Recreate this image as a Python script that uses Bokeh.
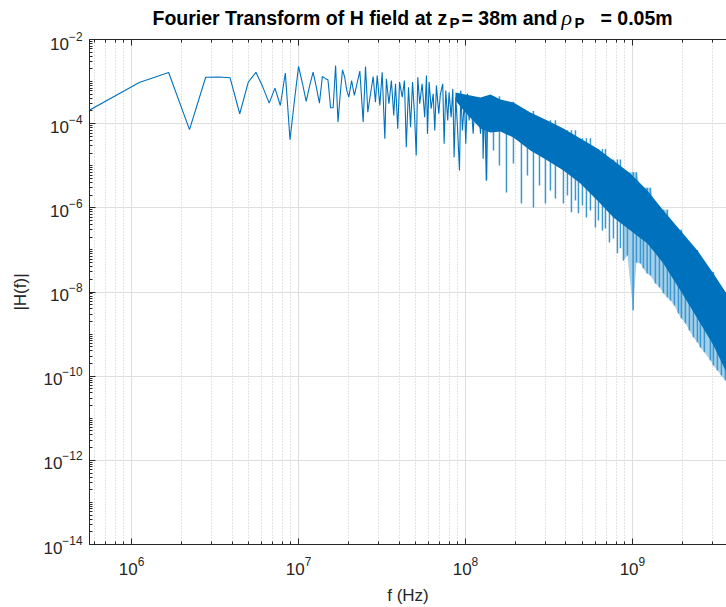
import numpy as np
from bokeh.plotting import figure
from bokeh.layouts import column
from bokeh.models import FixedTicker, LogAxis, Range1d, CustomJSTickFormatter
from bokeh.core.properties import value
from bokeh.embed import file_html
from bokeh.resources import INLINE

# ---------------- data ----------------
# individually visible FFT samples (frequency in MHz, |H(f)|)
f_line_mhz = [0.556, 1.112, 1.668, 2.224, 2.78, 3.336, 3.892, 4.448, 5.004, 5.56,
              6.116, 6.672, 7.228, 7.784, 8.34, 8.896, 9.452, 10.008, 10.564, 11.12,
              11.676, 12.232, 12.788, 13.344, 13.9, 14.456, 15.012, 15.568, 16.124, 16.68,
              17.236, 17.792, 18.348, 18.904, 19.46, 20.016,
              20.8, 21.6, 23.3, 24.4, 25.2, 26.0, 27.0, 28.0, 28.9, 29.6,
              30.7, 31.7, 32.9, 33.6, 34.8, 36.0, 37.2, 38.1, 39.3, 40.3,
              41.8, 43.1, 44.2, 45.6, 46.9, 48.2, 49.5, 50.7, 51.8, 53.2,
              55.0, 57.0, 58.4, 59.2, 60.6, 62.3, 64.1, 65.5, 67.0, 69.2,
              70.8, 73.1, 74.5, 76.2, 78.3, 79.8, 82.1, 84.0, 85.5, 87.5,
              89.6, 92.1, 93.7, 95.9, 98.6, 100.4, 102.8, 105.2, 107.6, 111.2,
              113.7, 116.4, 119.6, 123.0, 126.4, 127.6, 130.0, 133.6, 136.1]
h_line = [2.06e-4, 9.5e-4, 1.64e-3, 7.2e-5, 1.27e-3, 1.28e-3, 1.23e-3, 1.72e-4, 9.7e-4, 1.67e-3,
          7.4e-4, 3.07e-4, 7.0e-4, 2.7e-4, 1.6e-3, 4.15e-5, 3.5e-4, 2.29e-3, 9.0e-4, 3.4e-4,
          8.1e-4, 1.67e-3, 7.4e-4, 3.07e-4, 1.32e-3, 1.19e-3, 1.10e-3, 2.39e-4, 2.39e-4, 2.41e-3,
          1.09e-4, 5.2e-4, 1.9e-3, 1.27e-3, 6.2e-4, 4.27e-4,
          1.06e-3, 4.68e-4, 1.77e-3, 1.09e-4, 2.29e-3, 1.88e-4, 5.13e-4, 1.32e-3, 3.24e-4, 1.40e-3,
          2.7e-4, 1.67e-3, 4.37e-5, 1.16e-3, 2.97e-4, 1.06e-3, 1.57e-4, 8.87e-4, 7.57e-5, 9.7e-4,
          4.27e-4, 1.06e-3, 2.77e-5, 7.36e-4, 8.26e-5, 9.7e-4, 1.72e-4, 1.76e-5, 1.27e-3, 2.97e-4,
          8.87e-4, 1.43e-4, 1.40e-3, 5.75e-5, 9.7e-4, 2.26e-4, 5.13e-4, 6.9e-5, 8.07e-4, 1.72e-4,
          5.13e-4, 8.87e-4, 3.33e-5, 6.15e-4, 1.19e-4, 5.6e-4, 1.43e-4, 6.75e-4, 1.6e-5, 4.27e-4,
          8.26e-5, 7.7e-6, 6.15e-4, 6.9e-5, 3.56e-4, 3.33e-5, 5.13e-4, 1.19e-4, 4.27e-4, 5.75e-5,
          2.97e-4, 1.19e-4, 3.89e-4, 5.75e-5, 2.47e-4, 1.47e-5, 2.97e-4, 4.48e-6, 2.47e-4]

# dense part, where the samples merge into a solid band (MHz, upper / lower edge)
f_band_mhz = [87.1, 100.0, 123.0, 141.1, 162.0, 193.8, 245.0, 309.7, 386.2, 488.2,
              617.2, 769.5, 972.7, 1229.5, 1533.0, 1938.0, 2450.0, 3055.0, 3655.0, 3800.0]
h_band_upper = [5.5e-4, 4.94e-4, 4.19e-4, 4.94e-4, 3.76e-4, 3.19e-4, 1.85e-4, 1.19e-4, 7.7e-5, 4.45e-5,
                2.57e-5, 1.34e-5, 6.56e-6, 2.59e-6, 8.67e-7, 2.9e-7, 9.7e-8, 2.77e-8, 9.3e-9, 7.9e-9]
h_band_lower = [3.56e-4, 1.85e-4, 7.7e-5, 6.18e-5, 6.53e-5, 4.7e-5, 2.31e-5, 1.34e-5, 7.73e-6, 3.8e-6,
                1.5e-6, 5.9e-7, 2.9e-7, 1.43e-7, 4.78e-8, 1.09e-8, 2.36e-9, 5.4e-10, 1.23e-10, 1.0e-10]

# deep notches hanging below the band (MHz, band top, notch tip)
f_dip_mhz = [133.6, 147.2, 159.8, 176.0, 193.8, 216.4, 235.1, 255.4, 277.5, 301.3,
             322.8, 345.8, 386.2, 408.2, 431.3, 455.7, 475.0, 501.9, 530.4, 560.4,
             600.4, 625.8, 661.3, 689.2, 728.4, 769.5, 813.3, 847.5, 883.3, 933.5,
             1010.0, 1057.0, 1117.0, 1164.0, 1225.0, 1282.0, 1373.0, 1451.0, 1533.0, 1620.0,
             1689.0, 1784.0, 1886.0, 1965.0, 2077.0, 2194.0, 2319.0, 2450.0, 2554.0, 2698.0,
             2932.0, 3055.0, 3228.0, 3411.0, 3605.0]
h_dip_top = [4.5e-4, 4.5e-4, 4.5e-4, 3.3e-4, 3.3e-4, 2e-4, 2e-4, 2e-4, 1.2e-4, 1.2e-4,
             1.2e-4, 1.2e-4, 7e-5, 7e-5, 7e-5, 7e-5, 4.5e-5, 4.5e-5, 4.5e-5, 4.5e-5,
             2.5e-5, 2.5e-5, 2.5e-5, 2.5e-5, 1.4e-5, 1.4e-5, 1.4e-5, 1.4e-5, 7e-6, 7e-6,
             7e-6, 7e-6, 3e-6, 3e-6, 3e-6, 3e-6, 9e-7, 9e-7, 9e-7, 9e-7,
             3e-7, 3e-7, 3e-7, 3e-7, 1e-7, 1e-7, 1e-7, 1e-7, 3e-8, 3e-8,
             3e-8, 3e-8, 1e-8, 1e-8, 1e-8]
h_dip_tip = [4.48e-6, 2.3e-5, 1.02e-5, 2.32e-6, 1.13e-5, 1.27e-6, 5.9e-6, 1.02e-6, 3.4e-6, 1.27e-6,
             2.59e-6, 1.67e-6, 1.27e-6, 1.97e-6, 7.8e-7, 1.5e-6, 7.4e-7, 1.14e-6, 5.9e-7, 8.7e-7,
             3.42e-7, 5.0e-7, 2.9e-7, 3.24e-7, 1.51e-7, 1.87e-7, 8.3e-8, 1.09e-7, 5.6e-8, 7.4e-8,
             3.66e-9, 5.0e-8, 4.78e-8, 3.63e-8, 2.77e-8, 2.48e-8, 1.6e-8, 1.29e-8, 9.3e-9, 7.4e-9,
             6.3e-9, 4.8e-9, 3.1e-9, 2.36e-9, 1.8e-9, 1.22e-9, 8.4e-10, 6.4e-10, 4.8e-10, 3.7e-10,
             2.37e-10, 1.8e-10, 1.37e-10, 1.04e-10, 7.9e-11]

x_major_ticks = [1e6, 1e7, 1e8, 1e9]
y_major_ticks = [1e-14, 1e-12, 1e-10, 1e-8, 1e-6, 1e-4, 1e-2]
x_minor_ticks = [m * 10.0 ** e for e in range(5, 10) for m in range(1, 10)]
y_minor_ticks = [m * 10.0 ** e for e in range(-14, -2) for m in range(1, 10)] + [1e-2]

# title pieces
title_parts = ["Fourier Transform of H field at z", "P", "= 38m and", "\u03c1", "P", "= 0.05m"]

# ---------------- title strip (its frame is aligned with the main frame: 89..726 px) ----------------
TH = 31
FL = 89
t = figure(width=726, height=TH, x_range=Range1d(FL, 726), y_range=Range1d(0, TH),
           output_backend="svg", toolbar_location=None, min_border=0,
           x_axis_location=None, y_axis_location=None, outline_line_color=None,
           background_fill_color="white", border_fill_color="white")
t.xgrid.visible = False
t.ygrid.visible = False
big = dict(text_font=value("Liberation Sans"), text_font_style="bold", text_color="black",
           text_baseline="alphabetic", text_align="left")
BASE = 14    # baseline of the main title text, above the strip's bottom
SUB = 9.5    # baseline of the subscripts
t.text(x=[152, 461, 600], y=[BASE] * 3,
       text=[title_parts[0], title_parts[2], title_parts[5]], text_font_size="19.5px", **big)
t.text(x=[449, 574], y=[SUB] * 2, text=[title_parts[1], title_parts[4]],
       text_font_size="15px", **big)
t.text(x=[561], y=[BASE], text=[title_parts[3]], text_font=value("Liberation Serif"),
       text_font_style="italic", text_font_size="22px", text_color="black",
       text_baseline="alphabetic", text_align="left")

# ---------------- main figure ----------------
LINE = "#0072BD"
AX = "#262626"

p = figure(width=726, height=607 - TH, x_axis_type="log", y_axis_type="log",
           x_range=Range1d(5.6e5, 3.66e9), y_range=Range1d(1e-14, 1e-2),
           output_backend="svg", toolbar_location=None,
           min_border_left=FL, min_border_right=0, min_border_top=39 - TH, min_border_bottom=63,
           outline_line_color=None, background_fill_color="white", border_fill_color="white")

x_ticker = FixedTicker(ticks=x_major_ticks, minor_ticks=x_minor_ticks)
y_ticker = FixedTicker(ticks=y_major_ticks, minor_ticks=y_minor_ticks)

def style_axis(ax, ticker):
    ax.ticker = ticker
    ax.major_tick_in = 6
    ax.major_tick_out = 0
    ax.minor_tick_in = 3
    ax.minor_tick_out = 0
    ax.axis_line_color = AX
    ax.major_tick_line_color = AX
    ax.minor_tick_line_color = AX
    ax.major_label_text_font = "Liberation Sans"
    ax.major_label_text_font_size = "17px"
    ax.major_label_text_color = AX
    ax.axis_label_text_font = "Liberation Sans"
    ax.axis_label_text_font_size = "17px"
    ax.axis_label_text_font_style = "normal"
    ax.axis_label_text_color = AX

xa = p.xaxis[0]
style_axis(xa, x_ticker)
xa.axis_label = "f (Hz)"
xa.major_label_standoff = 12
xa.axis_label_standoff = 8

ya = p.yaxis[0]
style_axis(ya, y_ticker)
ya.axis_label = "|H(f)|"
ya.major_label_standoff = 7
ya.axis_label_standoff = 10

top = LogAxis()
style_axis(top, x_ticker)
top.formatter = CustomJSTickFormatter(code="return ''")
top.major_label_standoff = 0
p.add_layout(top, "above")

p.xgrid.grid_line_color = "#dedede"
p.xgrid.minor_grid_line_color = "#c8c8c8"
p.xgrid.minor_grid_line_dash = "1 2"
p.ygrid.grid_line_color = "#dedede"
p.ygrid.minor_grid_line_color = None

f_line = [v * 1e6 for v in f_line_mhz]
f_band = [v * 1e6 for v in f_band_mhz]
f_dip = [v * 1e6 for v in f_dip_mhz]

# light fringe of overlapping notches above 0.85 GHz
p.varea(x=f_dip[28:], y1=h_dip_tip[28:], y2=h_dip_top[28:], fill_color="#5aaadb", fill_alpha=0.55)
p.segment(x0=f_dip, y0=h_dip_top, x1=f_dip, y1=h_dip_tip, line_color="#3b97cf", line_width=1.5)
p.varea(x=f_band, y1=h_band_lower, y2=h_band_upper, fill_color=LINE)
p.line(f_line, h_line, line_color=LINE, line_width=1.1)

layout = column(t, p, spacing=0)
open("out.html", "w").write(file_html(layout, INLINE))
